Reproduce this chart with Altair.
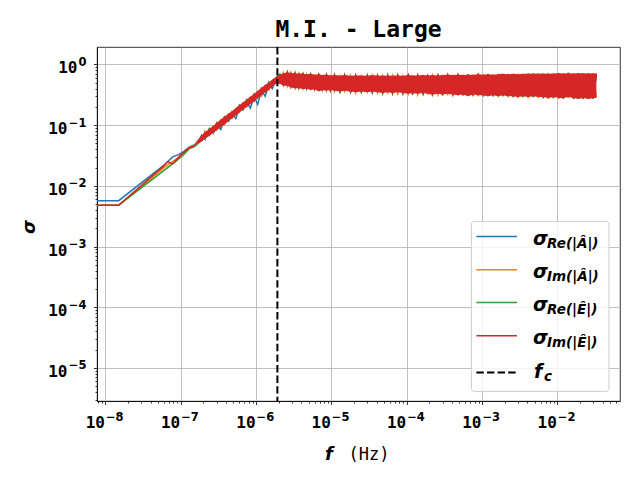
import altair as alt
import pandas as pd

# ---------------- data ----------------
FREQ = [7.73e-9, 1.5e-8, 6.0e-8, 6.7e-8, 7.8e-8, 9.5e-8, 1.1e-7, 1.3e-7, 1.5e-7, 1.7e-7,
        1.9e-7, 2.1e-7, 2.4e-7, 2.7e-7, 3.0e-7, 3.4e-7, 3.8e-7, 4.3e-7, 4.8e-7, 5.4e-7,
        6.0e-7, 6.7e-7, 7.5e-7, 8.4e-7, 9.4e-7, 1.05e-6, 1.18e-6, 1.32e-6, 1.48e-6, 1.65e-6,
        1.85e-6, 2.07e-6, 2.3e-6, 2.6e-6, 2.9e-6, 3.3e-6, 3.7e-6, 4.2e-6, 4.7e-6, 5.3e-6,
        6.0e-6, 6.8e-6, 7.6e-6, 8.6e-6, 9.7e-6, 1.1e-5, 1.3e-5, 1.5e-5, 1.8e-5, 2.1e-5,
        2.5e-5, 3.0e-5, 3.5e-5, 4.1e-5, 4.8e-5, 5.6e-5, 6.5e-5, 7.6e-5, 8.9e-5, 1.05e-4,
        1.2e-4, 1.4e-4, 1.65e-4, 1.9e-4, 2.2e-4, 2.6e-4, 3.0e-4, 3.5e-4, 4.1e-4, 4.8e-4,
        5.6e-4, 6.5e-4, 7.6e-4, 8.9e-4, 1.05e-3, 1.2e-3, 1.4e-3, 1.65e-3, 1.9e-3, 2.2e-3,
        2.6e-3, 3.0e-3, 3.5e-3, 4.1e-3, 4.8e-3, 5.6e-3, 6.5e-3, 7.6e-3, 8.9e-3, 1.05e-2,
        1.2e-2, 1.4e-2, 1.65e-2, 1.9e-2, 2.2e-2, 2.6e-2, 3.0e-2, 3.3e-2]

SIG_RE_A = [0.0057, 0.0057, 0.022, 0.025, 0.030, 0.033,
            0.037, 0.044, 0.047, 0.051, 0.069, 0.058, 0.088, 0.074, 0.101, 0.085,
            0.125, 0.115, 0.158, 0.128, 0.195, 0.178, 0.240, 0.190, 0.30, 0.22,
            0.37, 0.30, 0.46, 0.40, 0.58,
            0.62, 0.46, 0.72, 0.45, 0.70, 0.42, 0.69, 0.40, 0.68, 0.39,
            0.66, 0.38, 0.67, 0.37, 0.66, 0.36, 0.65, 0.35, 0.66, 0.35,
            0.64, 0.34, 0.66, 0.34, 0.65, 0.33, 0.65, 0.34, 0.66, 0.32,
            0.65, 0.33, 0.66, 0.31, 0.66, 0.32, 0.67, 0.31, 0.67, 0.31,
            0.67, 0.31, 0.68, 0.30, 0.68, 0.30, 0.68, 0.30, 0.69, 0.29,
            0.69, 0.29, 0.70, 0.29, 0.70, 0.28, 0.70, 0.28, 0.71, 0.27,
            0.71, 0.27, 0.71, 0.27, 0.71, 0.27, 0.70]

SIG_IM_A = [0.0048, 0.0048, 0.020, 0.022, 0.025, 0.030,
            0.035, 0.043, 0.046, 0.054, 0.056, 0.080, 0.068, 0.097, 0.084, 0.122,
            0.103, 0.150, 0.130, 0.185, 0.165, 0.232, 0.205, 0.285, 0.245, 0.35,
            0.30, 0.44, 0.38, 0.53, 0.50,
            0.49, 0.73, 0.44, 0.74, 0.41, 0.71, 0.40, 0.68, 0.38, 0.69,
            0.37, 0.66, 0.37, 0.67, 0.36, 0.65, 0.36, 0.66, 0.34, 0.65,
            0.35, 0.66, 0.34, 0.65, 0.34, 0.66, 0.33, 0.65, 0.33, 0.66,
            0.32, 0.67, 0.32, 0.66, 0.32, 0.67, 0.31, 0.67, 0.31, 0.68,
            0.31, 0.68, 0.30, 0.69, 0.30, 0.69, 0.29, 0.70, 0.29, 0.70,
            0.28, 0.70, 0.28, 0.71, 0.28, 0.71, 0.27, 0.71, 0.27, 0.72,
            0.28, 0.72, 0.27, 0.72, 0.27, 0.71, 0.29]

SIG_RE_E = [0.0048, 0.0048, 0.018, 0.020, 0.023, 0.028,
            0.033, 0.041, 0.044, 0.050, 0.064, 0.060, 0.086, 0.074, 0.110, 0.092,
            0.138, 0.118, 0.168, 0.150, 0.215, 0.180, 0.265, 0.228, 0.33, 0.28,
            0.41, 0.35, 0.52, 0.44, 0.60,
            0.70, 0.47, 0.75, 0.43, 0.73, 0.41, 0.72, 0.39, 0.70, 0.38,
            0.70, 0.37, 0.69, 0.37, 0.68, 0.35, 0.68, 0.35, 0.67, 0.35,
            0.67, 0.35, 0.66, 0.33, 0.67, 0.34, 0.67, 0.33, 0.68, 0.33,
            0.67, 0.33, 0.67, 0.32, 0.68, 0.31, 0.69, 0.32, 0.69, 0.31,
            0.69, 0.31, 0.70, 0.30, 0.70, 0.30, 0.70, 0.30, 0.70, 0.29,
            0.70, 0.29, 0.71, 0.29, 0.71, 0.28, 0.71, 0.28, 0.72, 0.28,
            0.73, 0.27, 0.72, 0.27, 0.72, 0.27, 0.71]

SIG_IM_E = [0.0048, 0.0048, 0.0215, 0.025, 0.023, 0.030,
            0.036, 0.042, 0.045, 0.056, 0.056, 0.075, 0.070, 0.094, 0.086, 0.118,
            0.108, 0.148, 0.135, 0.180, 0.170, 0.225, 0.205, 0.280, 0.250, 0.35,
            0.33, 0.44, 0.40, 0.53, 0.52,
            0.66, 0.46, 0.73, 0.43, 0.70, 0.42, 0.69, 0.41, 0.69, 0.40,
            0.68, 0.38, 0.67, 0.38, 0.66, 0.37, 0.66, 0.36, 0.65, 0.36,
            0.64, 0.36, 0.65, 0.35, 0.64, 0.35, 0.65, 0.34, 0.66, 0.34,
            0.65, 0.34, 0.65, 0.33, 0.65, 0.33, 0.67, 0.32, 0.67, 0.32,
            0.67, 0.32, 0.68, 0.31, 0.68, 0.31, 0.68, 0.31, 0.69, 0.30,
            0.68, 0.30, 0.69, 0.30, 0.69, 0.29, 0.70, 0.29, 0.71, 0.28,
            0.71, 0.28, 0.71, 0.28, 0.71, 0.28, 0.70]

# envelope of the dense red trace (from f = 1.7e-7 on)
BAND_FREQ = FREQ[9:]
BAND_HIGH = [0.058, 0.068, 0.076, 0.087, 0.097, 0.110, 0.124, 0.137, 0.156, 0.170,
             0.193, 0.212, 0.238, 0.262, 0.298, 0.327, 0.370, 0.408, 0.462, 0.505,
             0.570,
             0.63, 0.68, 0.72, 0.74, 0.73, 0.71, 0.72, 0.70, 0.69, 0.70,
             0.68, 0.69, 0.67, 0.68, 0.66, 0.67, 0.66, 0.67, 0.65, 0.66,
             0.66, 0.65, 0.67, 0.65, 0.66, 0.65, 0.66, 0.66, 0.65, 0.67,
             0.66, 0.66, 0.67, 0.66, 0.67, 0.66, 0.67, 0.68, 0.67, 0.68,
             0.67, 0.68, 0.68, 0.69, 0.68, 0.69, 0.68, 0.69, 0.70, 0.69,
             0.70, 0.69, 0.70, 0.70, 0.71, 0.70, 0.71, 0.70, 0.71, 0.72,
             0.71, 0.72, 0.71, 0.72, 0.72, 0.71, 0.72, 0.71]
BAND_LOW = [0.049, 0.054, 0.060, 0.066, 0.075, 0.082, 0.094, 0.101, 0.118, 0.128,
            0.146, 0.160, 0.181, 0.197, 0.224, 0.248, 0.280, 0.308, 0.350, 0.385,
            0.435,
            0.48, 0.48, 0.45, 0.44, 0.42, 0.40, 0.41, 0.39, 0.40, 0.38,
            0.39, 0.36, 0.38, 0.37, 0.38, 0.37, 0.36, 0.37, 0.36, 0.35,
            0.36, 0.35, 0.36, 0.35, 0.34, 0.35, 0.34, 0.35, 0.34, 0.33,
            0.34, 0.33, 0.34, 0.33, 0.32, 0.33, 0.32, 0.33, 0.32, 0.31,
            0.32, 0.30, 0.32, 0.31, 0.31, 0.30, 0.31, 0.30, 0.31, 0.30,
            0.30, 0.29, 0.30, 0.29, 0.30, 0.29, 0.29, 0.28, 0.29, 0.28,
            0.28, 0.29, 0.28, 0.27, 0.28, 0.27, 0.28, 0.28]

F_C = 1.92e-6
SUBSCRIPTS = ["Re(|Â|)", "Im(|Â|)", "Re(|Ê|)", "Im(|Ê|)"]
COLORS = ["#1f77b4", "#ff7f0e", "#2ca02c", "#d62728"]

X_TICKS = [1e-8, 1e-7, 1e-6, 1e-5, 1e-4, 1e-3, 1e-2]
X_EXP = ["−8", "−7", "−6", "−5", "−4", "−3", "−2"]
Y_TICKS = [1e-5, 1e-4, 1e-3, 1e-2, 1e-1, 1e0]
Y_EXP = ["−5", "−4", "−3", "−2", "−1", "0"]
X_MINOR = [m * 10.0 ** e for e in range(-9, -1) for m in range(2, 10)]
Y_MINOR = [m * 10.0 ** e for e in range(-6, 0) for m in range(2, 10)]

TITLE = "M.I. - Large"

# ---------------- chart ----------------
W, H = 523, 354
XS = alt.Scale(type="log", domain=[7.73e-9, 0.068], nice=False)
YS = alt.Scale(type="log", domain=[2.85e-6, 1.94], nice=False)
MONO = "DejaVu Sans Mono"
SANS = "DejaVu Sans"
ONE = pd.DataFrame({"k": [0]})
BASE_DF = pd.DataFrame({"f": FREQ, "s": SIG_IM_E})

axes_layer = alt.Chart(BASE_DF).mark_point(opacity=0).encode(
    x=alt.X("f:Q", scale=XS, axis=alt.Axis(values=X_TICKS, labels=False, orient="bottom", grid=True,
                                           title=None, tickSize=3.5)),
    y=alt.Y("s:Q", scale=YS, axis=alt.Axis(values=Y_TICKS, labels=False, orient="left", grid=True,
                                           title=None, tickSize=3.5)),
)

minor_layer = alt.Chart(BASE_DF).mark_point(opacity=0).encode(
    x=alt.X("f:Q", scale=XS, axis=alt.Axis(values=X_MINOR, labels=False, grid=False, domain=False,
                                           orient="bottom", title=None, tickSize=2)),
    y=alt.Y("s:Q", scale=YS, axis=alt.Axis(values=Y_MINOR, labels=False, grid=False, domain=False,
                                           orient="left", title=None, tickSize=2)),
)

# tick labels drawn as "10" plus a superscript exponent, placed through the scales
XLAB_DF = pd.DataFrame({"t": X_TICKS, "e": X_EXP})
YLAB_DF = pd.DataFrame({"t": Y_TICKS, "e": Y_EXP})

x_base = alt.Chart(XLAB_DF).mark_text(text="10", font=MONO, fontSize=16, fontWeight="bold",
                                      align="right", baseline="alphabetic", dx=-0.5, color="black").encode(
    x=alt.X("t:Q", scale=XS, axis=None), y=alt.value(H + 27.3))
x_exp = alt.Chart(XLAB_DF).mark_text(font=SANS, fontSize=11.5, fontWeight="bold",
                                     align="left", baseline="alphabetic", dx=0.5, color="black").encode(
    x=alt.X("t:Q", scale=XS, axis=None), y=alt.value(H + 19.8), text="e:N")

y_exp = alt.Chart(YLAB_DF).mark_text(font=SANS, fontSize=11.5, fontWeight="bold",
                                     align="right", baseline="alphabetic", dy=1.5, color="black").encode(
    y=alt.Y("t:Q", scale=YS, axis=None), x=alt.value(-10.6), text="e:N")
y_base_neg = alt.Chart(YLAB_DF).transform_filter("datum.t < 0.5").mark_text(
    text="10", font=MONO, fontSize=16, fontWeight="bold", align="right", baseline="alphabetic",
    dy=9, color="black").encode(
    y=alt.Y("t:Q", scale=YS, axis=None), x=alt.value(-29.5))
y_base_zero = alt.Chart(YLAB_DF).transform_filter("datum.t > 0.5").mark_text(
    text="10", font=MONO, fontSize=16, fontWeight="bold", align="right", baseline="alphabetic",
    dy=9, color="black").encode(
    y=alt.Y("t:Q", scale=YS, axis=None), x=alt.value(-19.5))


def line_layer(vals, color):
    df = pd.DataFrame({"f": FREQ, "s": vals})
    return alt.Chart(df).mark_line(color=color, strokeWidth=1.5, clip=True).encode(
        x=alt.X("f:Q", scale=XS, axis=None),
        y=alt.Y("s:Q", scale=YS, axis=None),
    )


band_layer = alt.Chart(pd.DataFrame({"f": BAND_FREQ, "lo": BAND_LOW, "hi": BAND_HIGH})).mark_area(
    color=COLORS[3], opacity=1, clip=True).encode(
    x=alt.X("f:Q", scale=XS, axis=None),
    y=alt.Y("lo:Q", scale=YS, axis=None),
    y2="hi:Q",
)

fc_layer = alt.Chart(pd.DataFrame({"f": [F_C]})).mark_rule(
    color="black", strokeWidth=2, strokeDash=[7.4, 3.2]).encode(
    x=alt.X("f:Q", scale=XS, axis=None))


def text(t, x, y, font=MONO, size=16, weight="normal", style="normal", align="left", angle=0):
    return alt.Chart(ONE).mark_text(text=t, font=font, fontSize=size, fontWeight=weight,
                                    fontStyle=style, align=align, baseline="alphabetic",
                                    angle=angle, color="black").encode(
        x=alt.value(x), y=alt.value(y))


title_layer = text(TITLE, W / 2, -10, size=23, weight="bold", align="center")
xlab_f = text("f", 228, 412.7, font=SANS, size=18, weight="bold", style="italic")
xlab_hz = text("(Hz)", 272, 412.7, size=17, align="center")
ylab = text("σ", -62, 180, font=SANS, size=18, weight="bold", style="italic", align="center", angle=270)

# legend
LX0, LX1, LY0, LY1 = 374.4, 512, 174.4, 344.4
legend_layers = [
    alt.Chart(ONE).mark_rect(fill="white", fillOpacity=0.8, stroke="#cccccc", strokeWidth=1,
                             cornerRadius=3).encode(
        x=alt.value(LX0), x2=alt.value(LX1), y=alt.value(LY0), y2=alt.value(LY1))
]
ENTRY_Y = [189.4, 222.7, 255.4, 288.7]
for c, sub, ly in zip(COLORS, SUBSCRIPTS, ENTRY_Y):
    legend_layers.append(alt.Chart(ONE).mark_rule(color=c, strokeWidth=1.5).encode(
        x=alt.value(379.4), x2=alt.value(420), y=alt.value(ly)))
    legend_layers.append(text("σ", 436, ly + 8.3, font=SANS, size=19, weight="bold", style="italic"))
    legend_layers.append(text(sub, 450, ly + 11.3, font=SANS, size=13.5, weight="bold", style="italic"))
legend_layers.append(alt.Chart(ONE).mark_rule(color="black", strokeWidth=2, strokeDash=[7.4, 3.2]).encode(
    x=alt.value(379.4), x2=alt.value(420), y=alt.value(325.4)))
legend_layers.append(text("f", 437, 331, font=SANS, size=19, weight="bold", style="italic"))
legend_layers.append(text("c", 447, 334, font=SANS, size=13.5, weight="bold", style="italic"))

chart = alt.layer(
    axes_layer, minor_layer,
    line_layer(SIG_RE_A, COLORS[0]),
    line_layer(SIG_IM_A, COLORS[1]),
    line_layer(SIG_RE_E, COLORS[2]),
    band_layer,
    line_layer(SIG_IM_E, COLORS[3]),
    fc_layer,
    x_base, x_exp, y_exp, y_base_neg, y_base_zero,
    title_layer, xlab_f, xlab_hz, ylab,
    *legend_layers,
).resolve_axis(x="independent", y="independent").properties(
    width=W, height=H,
    padding={"left": 89, "top": 39, "right": 12, "bottom": 70},
    autosize=alt.AutoSizeParams(type="none"),
).configure_view(
    stroke="black", strokeWidth=0.8
).configure_axis(
    tickColor="black", tickWidth=0.8, domainColor="black", domainWidth=0.8,
    gridColor="#b0b0b0", gridWidth=0.8,
)

chart.save("out.html", embed_options={"renderer": "svg", "actions": False})
